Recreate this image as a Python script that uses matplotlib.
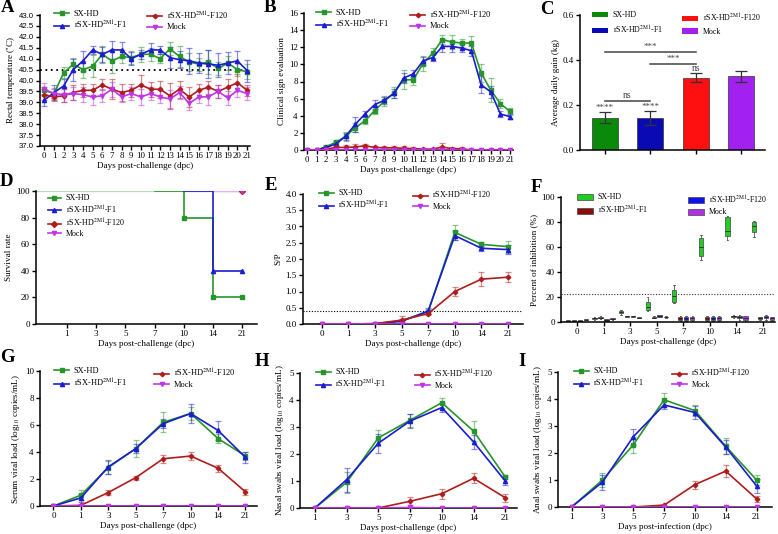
import matplotlib
matplotlib.use("Agg")
import matplotlib.pyplot as plt
from matplotlib.patches import Patch
from matplotlib.lines import Line2D
import numpy as np

plt.rcParams['font.family'] = ['Liberation Serif', 'DejaVu Serif']
plt.rcParams['mathtext.fontset'] = 'stix'
plt.rcParams['axes.linewidth'] = 1.1
plt.rcParams['xtick.major.width'] = 1.0
plt.rcParams['ytick.major.width'] = 1.0
plt.rcParams['xtick.major.size'] = 3
plt.rcParams['ytick.major.size'] = 3

# ---------------- Data ----------------
groups = ["SX-HD", "rSX-HD$^{\\mathrm{2M1}}$-F1", "rSX-HD$^{\\mathrm{2M1}}$-F120", "Mock"]
colors = ['#27962a', '#1c1cd0', '#b01c1c', '#c035ea']
markers = ['s', '^', 'D', 'v']

# A: rectal temperature
days_A = list(range(22))
temp_sx = [39.55, 39.4, 40.35, 40.75, 40.5, 40.65, 41.2, 40.9, 41.1, 41.05, 41.2, 41.2, 41.0, 41.45, 41.1, 40.85, 40.75, 40.85, 40.55, 40.8, 40.5, 40.4]
temp_f1 = [39.1, 39.45, 39.75, 40.5, 40.9, 41.4, 41.2, 41.4, 41.4, 41.0, 41.2, 41.4, 41.4, 41.05, 40.95, 40.9, 40.8, 40.75, 40.7, 40.8, 40.9, 40.45]
temp_f120 = [39.35, 39.25, 39.3, 39.45, 39.55, 39.55, 39.8, 39.6, 39.45, 39.55, 39.8, 39.6, 39.6, 39.3, 39.6, 39.25, 39.55, 39.7, 39.5, 39.7, 39.9, 39.55]
temp_mock = [39.6, 39.4, 39.35, 39.4, 39.35, 39.25, 39.3, 39.6, 39.25, 39.4, 39.25, 39.4, 39.25, 39.15, 39.45, 38.95, 39.25, 39.25, 39.5, 39.2, 39.55, 39.4]
temp_sx_err = [0.15, 0.2, 0.25, 0.3, 0.4, 0.5, 0.4, 0.55, 0.3, 0.3, 0.35, 0.3, 0.2, 0.3, 0.5, 0.4, 0.3, 0.55, 0.3, 0.3, 0.3, 0.35]
temp_f1_err = [0.25, 0.35, 0.3, 0.5, 0.45, 0.2, 0.35, 0.4, 0.35, 0.3, 0.2, 0.3, 0.2, 0.5, 0.4, 0.6, 0.45, 0.65, 0.55, 0.5, 0.45, 0.5]
temp_f120_err = [0.25, 0.2, 0.3, 0.35, 0.3, 0.3, 0.25, 0.45, 0.4, 0.3, 0.45, 0.35, 0.4, 0.6, 0.4, 0.45, 0.3, 0.3, 0.3, 0.35, 0.4, 0.25]
temp_mock_err = [0.3, 0.25, 0.35, 0.3, 0.35, 0.35, 0.3, 0.35, 0.25, 0.3, 0.35, 0.3, 0.3, 0.4, 0.3, 0.3, 0.3, 0.35, 0.3, 0.3, 0.3, 0.3]
threshold_A = 40.5

# B: clinical sign
clin_sx = [0, 0, 0.4, 0.9, 1.6, 2.6, 3.4, 4.6, 5.7, 6.7, 8.2, 8.2, 10.1, 11.3, 12.9, 12.6, 12.5, 12.5, 9.0, 7.0, 5.4, 4.5]
clin_f1 = [0, 0, 0.3, 0.7, 1.6, 3.0, 4.2, 5.3, 5.8, 6.6, 8.4, 8.9, 10.4, 10.8, 12.1, 12.1, 11.9, 11.6, 7.6, 6.8, 4.2, 3.9]
clin_f120 = [0, 0, 0.1, 0.3, 0.3, 0.35, 0.5, 0.3, 0.25, 0.25, 0.2, 0.15, 0.1, 0.1, 0.35, 0.15, 0.15, 0, 0, 0, 0, 0]
clin_mock = [0] * 22
clin_sx_err = [0, 0, 0.2, 0.3, 0.5, 0.5, 0.4, 0.4, 0.6, 0.6, 1.1, 0.6, 0.9, 0.6, 0.5, 0.8, 0.5, 0.8, 1.1, 1.4, 0.5, 0.4]
clin_f1_err = [0, 0, 0.2, 0.3, 0.4, 0.9, 0.4, 0.5, 0.4, 0.5, 0.6, 0.4, 0.5, 0.4, 0.6, 0.6, 0.5, 0.6, 1.0, 0.7, 0.3, 0.3]
clin_f120_err = [0, 0, 0.1, 0.2, 0.3, 0.3, 0.2, 0.2, 0.2, 0.2, 0.3, 0.2, 0.1, 0.1, 0.5, 0.2, 0.2, 0, 0, 0, 0, 0]

# C: average daily gain
adg_mean = [0.143, 0.143, 0.322, 0.328]
adg_err = [0.025, 0.03, 0.02, 0.025]
adg_colors = ['#0a8a0a', '#0a0ab4', '#ff1010', '#a321f0']

# D: survival (first value = start of trial)
surv_days = ['1', '3', '5', '7', '10', '14', '21']
surv_sx = [100, 100, 100, 100, 80, 20, 20]
surv_f1 = [100, 100, 100, 100, 100, 40, 40]
surv_f120 = [100, 100, 100, 100, 100, 100, 100]
surv_mock = [100, 100, 100, 100, 100, 100, 100]

# E: S/P
days8 = ['0', '1', '3', '5', '7', '10', '14', '21']
sp_sx = [0, 0, 0.01, 0.1, 0.38, 2.82, 2.45, 2.38]
sp_f1 = [0, 0, 0.01, 0.08, 0.4, 2.72, 2.33, 2.29]
sp_f120 = [0, 0, 0.01, 0.12, 0.32, 1.0, 1.38, 1.44]
sp_mock = [0] * 8
sp_sx_err = [0, 0, 0.01, 0.05, 0.08, 0.24, 0.08, 0.18]
sp_f1_err = [0, 0, 0.01, 0.05, 0.08, 0.15, 0.08, 0.15]
sp_f120_err = [0, 0, 0.01, 0.12, 0.05, 0.15, 0.22, 0.15]
threshold_E = 0.4

# F: blocking ELISA boxes  (whislo, q1, med, q3, whishi)
f_labels = ["SX-HD", "rSX-HD$^{\\mathrm{2M1}}$-F1", "rSX-HD$^{\\mathrm{2M1}}$-F120", "Mock"]
f_colors = ['#22cc22', '#8b0a0a', '#1010ee', '#b030e8']
box_sx = [(0.5, 0.7, 1, 1.4, 1.6), (2, 2.5, 3, 3.5, 4), (6, 7, 8, 9, 9.5), (9, 9.5, 12, 16, 20),
          (15, 16, 21, 26, 30), (50, 53, 60, 67, 70), (66, 69, 73, 84, 85), (68, 72, 77, 80, 81)]
box_f1 = [(0.5, 0.7, 1, 1.4, 1.6), (2.5, 3, 3.5, 4, 4.5), (4, 4.2, 4.5, 5, 5.2), (3, 3.2, 3.5, 4.2, 4.5),
          (0.5, 1.5, 3, 4.2, 4.8), (0.5, 1.5, 3, 4.2, 4.8), (3.5, 4, 4.5, 5, 5.5), (2, 2.5, 3, 3.8, 4)]
box_f120 = [(0.3, 0.5, 1, 1.3, 1.5), (0.5, 1, 1.5, 2.2, 2.5), (4, 4.2, 4.5, 5, 5.2), (4, 4.3, 4.8, 5.3, 5.6),
            (1, 2, 3.5, 4.3, 4.8), (1, 2, 3.5, 4.3, 4.8), (2, 3, 4, 5, 5.3), (2, 3, 4, 5, 5.5)]
box_mock = [(1.5, 1.7, 2, 2.4, 2.6), (2, 2.3, 2.5, 3.3, 3.6), (3, 3.2, 3.5, 3.8, 4), (3.5, 3.8, 4, 4.4, 4.6),
            (0.5, 1.5, 3.5, 4.3, 4.8), (1, 2, 3.5, 4.3, 4.8), (1, 2, 3.5, 4.6, 5), (0.5, 1.5, 3, 3.8, 4.2)]
threshold_F = 22.5

# G: serum viral load
vl_sx = [0, 0.8, 2.85, 4.25, 6.2, 6.85, 5.0, 3.7]
vl_f1 = [0, 0.6, 2.9, 4.25, 6.1, 6.85, 5.6, 3.6]
vl_f120 = [0, 0.05, 1.0, 2.1, 3.5, 3.7, 2.8, 1.05]
vl_mock = [0] * 8
vl_sx_err = [0, 0.35, 0.45, 0.65, 0.75, 0.5, 0.3, 0.3]
vl_f1_err = [0, 0.3, 0.5, 0.35, 0.35, 0.7, 0.7, 0.4]
vl_f120_err = [0, 0.05, 0.15, 0.15, 0.3, 0.3, 0.25, 0.2]

# H: nasal swabs
days7 = ['1', '3', '5', '7', '10', '14', '21']
ns_sx = [0, 0.95, 2.6, 3.25, 3.9, 2.85, 1.15]
ns_f1 = [0, 1.05, 2.4, 3.22, 3.72, 2.45, 1.0]
ns_f120 = [0, 0, 0, 0.25, 0.53, 1.1, 0.38]
ns_mock = [0, 0, 0, 0.02, 0, 0, 0]
ns_sx_err = [0, 0.4, 0.3, 0.25, 0.18, 0.38, 0.08]
ns_f1_err = [0, 0.45, 0.35, 0.25, 0.18, 0.25, 0.15]
ns_f120_err = [0, 0, 0, 0.15, 0.18, 0.18, 0.15]

# I: anal swabs
as_sx = [0, 1.0, 2.3, 3.97, 3.57, 2.25, 1.0]
as_f1 = [0, 0.92, 2.6, 3.78, 3.5, 2.22, 0.78]
as_f120 = [0, 0, 0, 0.07, 0.83, 1.33, 0.3]
as_mock = [0] * 7
as_sx_err = [0, 0.25, 0.3, 0.25, 0.2, 0.3, 0.2]
as_f1_err = [0, 0.28, 0.3, 0.15, 0.25, 0.25, 0.25]
as_f120_err = [0, 0, 0, 0.02, 0.15, 0.22, 0.1]

# ---------------- Figure ----------------
W, H = 778, 534
fig = plt.figure(figsize=(W / 100, H / 100), dpi=100)

TICKFS = 6.5
LBLFS = 6.6
LEGFS = 6.0

def add_ax(l, r, t, b):
    return fig.add_axes([l / W, 1 - b / H, (r - l) / W, (b - t) / H])

def style(ax):
    ax.spines['top'].set_visible(False)
    ax.spines['right'].set_visible(False)
    ax.tick_params(labelsize=TICKFS, pad=1.5)

def lines(ax, x, series, errs):
    hs = []
    for i, (y, e) in enumerate(zip(series, errs)):
        if e is not None:
            ax.errorbar(x, y, yerr=e, fmt='none', ecolor=colors[i], alpha=0.5, elinewidth=0.9,
                        capsize=2, capthick=0.9, zorder=2)
        h, = ax.plot(x, y, color=colors[i], marker=markers[i], ms=3 if markers[i] != 'D' else 2.3,
                     lw=1.2, label=groups[i], zorder=3)
        hs.append(h)
    return hs

def leg_at(handles, labels, px, py, fs=LEGFS, rowsp=0.25, hl=1.8, **kw):
    # px: left of handle (figure px), py: centre of first row (figure px)
    fs_px = fs * 100 / 72
    top = py - fs_px * 0.7
    return fig.legend(handles, labels, loc='upper left', bbox_to_anchor=(px / W, 1 - top / H),
                      bbox_transform=fig.transFigure, frameon=False, fontsize=fs, borderpad=0,
                      borderaxespad=0, handlelength=hl, handletextpad=0.6, labelspacing=rowsp, **kw)

def two_legends(hs, x1, x2, py, fs=LEGFS, rowsp=0.2, hl=1.8, **kw):
    leg_at(hs[:2], groups[:2], x1, py, fs, rowsp, hl, **kw)
    leg_at(hs[2:], groups[2:], x2, py, fs, rowsp, hl, **kw)

xl_chal = "Days post-challenge (dpc)"

# ----- A -----
ax = add_ax(40, 250, 15, 146)
style(ax)
hs = lines(ax, days_A, [temp_sx, temp_f1, temp_f120, temp_mock],
           [temp_sx_err, temp_f1_err, temp_f120_err, temp_mock_err])
ax.axhline(threshold_A, color='black', ls=(0, (1, 2)), lw=1.3, zorder=1)
ax.set_xlim(-0.45, 21.3)
ax.set_ylim(37.0, 43.0)
ax.set_xticks(days_A)
ax.set_xticklabels([str(d) for d in days_A], fontsize=6.4)
yt = np.arange(37.0, 43.01, 0.5)
ax.set_yticks(yt)
ax.set_yticklabels([f"{v:.1f}" for v in yt], fontsize=5.6, family=['Liberation Sans'])
ax.set_ylabel("Rectal temperature ($^{\\circ}$C)", fontsize=LBLFS, labelpad=1)
ax.set_xlabel(xl_chal, fontsize=LBLFS, labelpad=1)
two_legends(hs, 54, 147, 15.5)

# ----- B -----
ax = add_ax(304, 513, 13, 150)
style(ax)
hs = lines(ax, days_A, [clin_sx, clin_f1, clin_f120, clin_mock],
           [clin_sx_err, clin_f1_err, clin_f120_err, None])
ax.set_xlim(-0.3, 21.3)
ax.set_ylim(0, 16)
ax.set_xticks(days_A)
ax.set_xticklabels([str(d) for d in days_A], fontsize=6.4)
ax.set_yticks(range(0, 17, 2))
ax.set_ylabel("Clinical sign evaluation", fontsize=LBLFS, labelpad=2)
ax.set_xlabel(xl_chal, fontsize=LBLFS, labelpad=1)
two_legends(hs, 316, 410, 14.5)

# ----- C -----
ax = add_ax(580, 765, 15, 150)
style(ax)
xc = np.arange(4)
ax.bar(xc, adg_mean, width=0.57, color=adg_colors, edgecolor='#333333', lw=0.5, zorder=2)
ax.errorbar(xc, adg_mean, yerr=adg_err, fmt='none', ecolor='#333333', elinewidth=0.9,
            capsize=4, capthick=0.9, zorder=3)
ax.set_xlim(-0.54, 3.52)
ax.set_ylim(0, 0.6)
ax.set_yticks([0.0, 0.2, 0.4, 0.6])
ax.set_yticklabels(["0.0", "0.2", "0.4", "0.6"])
ax.set_xticks(xc)
ax.set_xticklabels([])
ax.set_ylabel("Average daily gain (kg)", fontsize=LBLFS, labelpad=2)
sig_c = '#444444'
ax.plot([0, 2], [0.435, 0.435], color=sig_c, lw=1.1)
ax.text(1, 0.44, "***", ha='center', va='bottom', fontsize=6.5, color=sig_c)
ax.plot([1, 2], [0.382, 0.382], color=sig_c, lw=1.1)
ax.text(1.5, 0.387, "***", ha='center', va='bottom', fontsize=6.5, color=sig_c)
ax.plot([0, 1], [0.218, 0.218], color=sig_c, lw=1.1)
ax.text(0.5, 0.222, "ns", ha='center', va='bottom', fontsize=7, color=sig_c)
ax.text(2, 0.343, "ns", ha='center', va='bottom', fontsize=7, color=sig_c)
for i in (0, 1):
    ax.text(i, adg_mean[i] + adg_err[i] + 0.002, "****", ha='center', va='bottom', fontsize=6.5, color=sig_c)
ph = [Patch(facecolor=adg_colors[i]) for i in range(4)]
leg_at(ph[:2], groups[:2], 592, 17, fs=5.7, rowsp=0.5, hl=2.0, handleheight=0.7)
leg_at(ph[2:], groups[2:], 682, 17, fs=5.7, rowsp=0.5, hl=2.0, handleheight=0.7)

# ----- D -----
ax = add_ax(36, 257, 191, 324)
style(ax)
xd = np.arange(len(surv_days) + 1)
surv_all = [surv_sx, surv_f1, surv_f120, surv_mock]
ax.plot([0, xd[-1]], [100, 100], color='#b8dcb8', lw=1.6, zorder=1)
ax.plot([xd[5], xd[-1]], [100, 100], color='#c0b8f0', lw=1.6, zorder=1)
ax.plot([xd[6], xd[-1]], [100, 100], color='#e0b0f0', lw=1.6, zorder=1)
for i, s in enumerate(surv_all):
    y = np.array([100] + s)
    below = np.where(y < 100)[0]
    if len(below):
        k = below[0]
        ax.step(xd[k - 1:], y[k - 1:], where='post', color=colors[i], lw=1.2, zorder=3)
        ax.plot(xd[k:], y[k:], ls='none', marker=markers[i], ms=3, color=colors[i], zorder=4)
    else:
        ax.plot(xd[-1:], y[-1:], ls='none', marker=markers[i], ms=3, color=colors[i], zorder=4)
ax.set_xlim(-0.05, 7.5)
ax.set_ylim(0, 100)
ax.set_xticks(xd[1:])
ax.set_xticklabels(surv_days)
ax.set_yticks(range(0, 101, 20))
ax.set_ylabel("Survival rate", fontsize=LBLFS, labelpad=2)
ax.set_xlabel(xl_chal, fontsize=LBLFS, labelpad=1)
hd = [Line2D([], [], color=colors[i], marker=markers[i], ms=3, lw=1.2) for i in range(4)]
leg_at(hd, groups, 48, 200, fs=5.8, rowsp=0.15, hl=1.6)

# ----- E -----
ax = add_ax(303, 523, 194, 324)
style(ax)
x8 = np.arange(len(days8))
hs = lines(ax, x8, [sp_sx, sp_f1, sp_f120, sp_mock], [sp_sx_err, sp_f1_err, sp_f120_err, None])
ax.axhline(threshold_E, color='black', ls=(0, (1, 1.5)), lw=0.8, zorder=1)
ax.set_xlim(-0.7, 7.56)
ax.set_ylim(0, 4.0)
ax.set_xticks(x8)
ax.set_xticklabels(days8)
yt = np.arange(0, 4.01, 0.5)
ax.set_yticks(yt)
ax.set_yticklabels([f"{v:.1f}" for v in yt])
ax.set_ylabel("S/P", fontsize=LBLFS, labelpad=2)
ax.set_xlabel(xl_chal, fontsize=LBLFS, labelpad=1)
two_legends(hs, 319, 413, 195, fs=5.8)

# ----- F -----
ax = add_ax(561, 775, 197, 322)
style(ax)
offs = [-0.34, -0.11, 0.11, 0.34]
for gi, boxes in enumerate([box_sx, box_f1, box_f120, box_mock]):
    stats = [dict(whislo=lo, q1=q1, med=med, q3=q3, whishi=hi, fliers=[])
             for (lo, q1, med, q3, hi) in boxes]
    ax.bxp(stats, positions=np.arange(len(boxes)) + offs[gi], widths=0.16, patch_artist=True,
           showfliers=False,
           boxprops=dict(facecolor=f_colors[gi], edgecolor='#444444', lw=0.5),
           medianprops=dict(color='#222222', lw=0.6),
           whiskerprops=dict(color='#555555', lw=0.6),
           capprops=dict(color='#555555', lw=0.6), capwidths=0.06)
ax.axhline(threshold_F, color='#333333', ls=(0, (1, 1.5)), lw=0.8, zorder=1)
ax.set_xlim(-0.6, 7.45)
ax.set_ylim(0, 100)
ax.set_xticks(x8)
ax.set_xticklabels(days8)
ax.set_yticks(range(0, 101, 20))
ax.set_ylabel("Percent of inhibition (%)", fontsize=LBLFS, labelpad=2)
ax.set_xlabel(xl_chal, fontsize=LBLFS, labelpad=1)
fh = [Patch(facecolor=f_colors[i], edgecolor='#444444', lw=0.5) for i in range(4)]
leg_at(fh[:2], f_labels[:2], 577, 199, fs=5.7, rowsp=0.35, hl=2.0, handleheight=0.8)
leg_at(fh[2:], f_labels[2:], 688, 199, fs=5.7, rowsp=0.35, hl=2.0, handleheight=0.8)

# ----- G -----
ax = add_ax(40, 257, 371, 506)
style(ax)
hs = lines(ax, x8, [vl_sx, vl_f1, vl_f120, vl_mock], [vl_sx_err, vl_f1_err, vl_f120_err, None])
ax.set_xlim(-0.49, 7.42)
ax.set_ylim(0, 10)
ax.set_xticks(x8)
ax.set_xticklabels(days8)
ax.set_yticks(range(0, 11, 2))
ax.set_ylabel("Serum viral load (log$_{10}$ copies/mL)", fontsize=LBLFS, labelpad=2)
ax.set_xlabel(xl_chal, fontsize=LBLFS, labelpad=1)
two_legends(hs, 54, 154, 373)

# ----- H -----
ax = add_ax(300, 517, 373, 508)
style(ax)
x7 = np.arange(len(days7))
hs = lines(ax, x7, [ns_sx, ns_f1, ns_f120, ns_mock], [ns_sx_err, ns_f1_err, ns_f120_err, None])
ax.set_xlim(-0.47, 6.37)
ax.set_ylim(0, 5)
ax.set_xticks(x7)
ax.set_xticklabels(days7)
ax.set_yticks(range(0, 6))
ax.set_ylabel("Nasal swabs viral load (log$_{10}$ copies/mL)", fontsize=LBLFS, labelpad=2)
ax.set_xlabel(xl_chal, fontsize=LBLFS, labelpad=1)
two_legends(hs, 316, 415, 374, fs=5.8)

# ----- I -----
ax = add_ax(558, 772, 372, 507)
style(ax)
hs = lines(ax, x7, [as_sx, as_f1, as_f120, as_mock], [as_sx_err, as_f1_err, as_f120_err, None])
ax.set_xlim(-0.44, 6.5)
ax.set_ylim(0, 5)
ax.set_xticks(x7)
ax.set_xticklabels(days7)
ax.set_yticks(range(0, 6))
ax.set_ylabel("Anal swabs viral load (log$_{10}$ copies/mL)", fontsize=LBLFS, labelpad=2)
ax.set_xlabel("Days post-infection (dpc)", fontsize=LBLFS, labelpad=1)
two_legends(hs, 574, 672, 373, fs=5.8)

# Panel letters
letters = [("A", 1, 8), ("B", 264, 8), ("C", 540, 10), ("D", 0, 182), ("E", 265, 186),
           ("F", 531, 187), ("G", 0, 358), ("H", 255, 362), ("I", 518, 362)]
for t, px, py in letters:
    fig.text(px / W, 1 - py / H, t, fontsize=13.5, fontweight='bold', ha='left', va='center',
             family=['Liberation Serif'])

fig.savefig("out.png", dpi=100)
